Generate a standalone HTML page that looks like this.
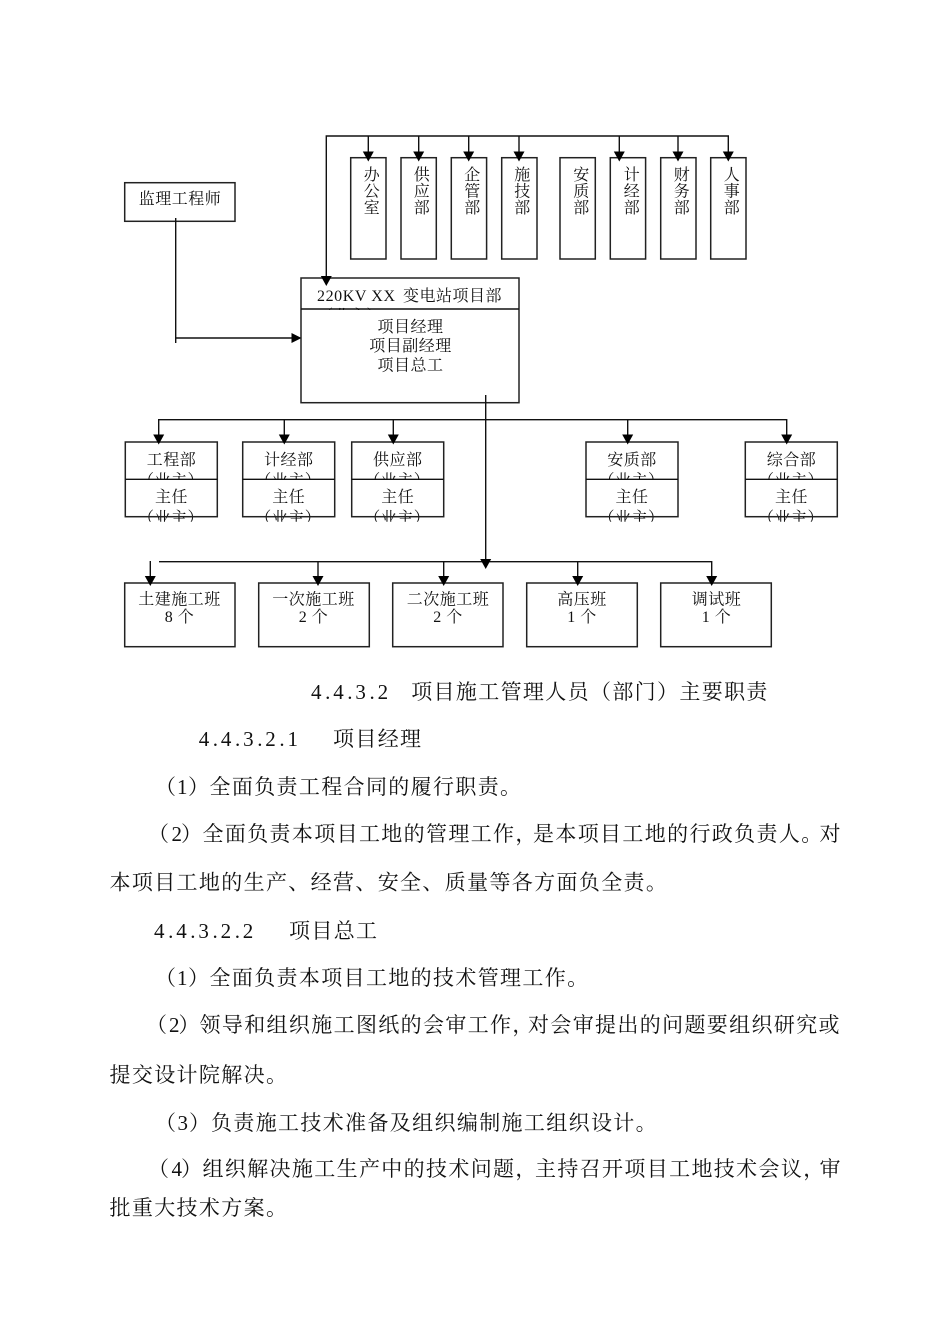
<!DOCTYPE html>
<html lang="zh">
<head>
<meta charset="utf-8">
<style>
html,body{margin:0;padding:0;background:#fff;width:950px;height:1344px;overflow:hidden}
svg{display:block}
text{font-family:"Liberation Serif","Noto Serif CJK SC",serif;fill:#111}
.b text{font-size:21px;letter-spacing:1.35px}
.l text{font-size:16px;letter-spacing:.5px;text-anchor:middle}
.box rect{fill:none;stroke:#222;stroke-width:1.5}
.ln{fill:none;stroke:#111;stroke-width:1.4}
</style>
</head>
<body>
<svg width="950" height="1344" viewBox="0 0 950 1344" xmlns="http://www.w3.org/2000/svg">
<defs>
<clipPath id="c0"><rect x="300" y="305" width="120" height="5"/></clipPath>
<clipPath id="c1"><rect x="100" y="466" width="760" height="13.5"/></clipPath>
<clipPath id="c2"><rect x="100" y="505" width="760" height="16.7"/></clipPath>
</defs>

<g class="l">
<text x="180" y="204">监理工程师</text>
<text x="372" y="180">办</text><text x="372" y="196.5">公</text><text x="372" y="213">室</text>
<text x="422" y="180">供</text><text x="422" y="196.5">应</text><text x="422" y="213">部</text>
<text x="472.5" y="180">企</text><text x="472.5" y="196.5">管</text><text x="472.5" y="213">部</text>
<text x="522.5" y="180">施</text><text x="522.5" y="196.5">技</text><text x="522.5" y="213">部</text>
<text x="581.5" y="180">安</text><text x="581.5" y="196.5">质</text><text x="581.5" y="213">部</text>
<text x="632" y="180">计</text><text x="632" y="196.5">经</text><text x="632" y="213">部</text>
<text x="682" y="180">财</text><text x="682" y="196.5">务</text><text x="682" y="213">部</text>
<text x="732" y="180">人</text><text x="732" y="196.5">事</text><text x="732" y="213">部</text>

<text style="text-anchor:start;letter-spacing:0" x="317" y="301" textLength="78">220KV XX</text>
<text style="text-anchor:start" x="403" y="301">变电站项目部</text>
<text clip-path="url(#c0)" x="350" y="321">（业主）</text>

<text x="410.5" y="332">项目经理</text>
<text x="410.5" y="351">项目副经理</text>
<text x="410.5" y="370.5">项目总工</text>

<g>
<text x="171.5" y="465">工程部</text><text x="288.7" y="465">计经部</text><text x="397.7" y="465">供应部</text><text x="632" y="465">安质部</text><text x="791.5" y="465">综合部</text>
<text x="171.5" y="502">主任</text><text x="288.7" y="502">主任</text><text x="397.7" y="502">主任</text><text x="632" y="502">主任</text><text x="791.5" y="502">主任</text>
</g>
<g clip-path="url(#c1)">
<text x="171" y="485.5">（业主）</text><text x="288.2" y="485.5">（业主）</text><text x="397.2" y="485.5">（业主）</text><text x="631.5" y="485.5">（业主）</text><text x="791" y="485.5">（业主）</text>
</g>
<g clip-path="url(#c2)">
<text x="171" y="523">（业主）</text><text x="288.2" y="523">（业主）</text><text x="397.2" y="523">（业主）</text><text x="631.5" y="523">（业主）</text><text x="791" y="523">（业主）</text>
</g>

<text x="179.5" y="604.5">土建施工班</text><text x="179.5" y="622">8 个</text>
<text x="313.5" y="604.5">一次施工班</text><text x="313.5" y="622">2 个</text>
<text x="448" y="604.5">二次施工班</text><text x="448" y="622">2 个</text>
<text x="582" y="604.5">高压班</text><text x="582" y="622">1 个</text>
<text x="716.5" y="604.5">调试班</text><text x="716.5" y="622">1 个</text>
</g>

<g class="box">
<rect x="124.7" y="182.7" width="110.3" height="38.6"/>
<rect x="350.7" y="157.7" width="35.3" height="101.3"/>
<rect x="401" y="157.7" width="35.3" height="101.3"/>
<rect x="451.3" y="157.7" width="35.3" height="101.3"/>
<rect x="501.7" y="157.7" width="35.3" height="101.3"/>
<rect x="560" y="157.7" width="35.3" height="101.3"/>
<rect x="610.3" y="157.7" width="35.3" height="101.3"/>
<rect x="660.7" y="157.7" width="35.3" height="101.3"/>
<rect x="710.7" y="157.7" width="35.3" height="101.3"/>
<rect x="301" y="278" width="218" height="124.7"/>
<rect x="125.3" y="442" width="92" height="74.7"/>
<rect x="242.7" y="442" width="92" height="74.7"/>
<rect x="351.7" y="442" width="92" height="74.7"/>
<rect x="586" y="442" width="92" height="74.7"/>
<rect x="745.3" y="442" width="92" height="74.7"/>
<rect x="124.7" y="583" width="110.3" height="63.7"/>
<rect x="258.7" y="583" width="110.6" height="63.7"/>
<rect x="392.7" y="583" width="110.3" height="63.7"/>
<rect x="526.7" y="583" width="110.6" height="63.7"/>
<rect x="660.7" y="583" width="110.6" height="63.7"/>
</g>

<path class="ln" d="M301 309H519
M125.3 479.3H217.3M242.7 479.3H334.7M351.7 479.3H443.7M586 479.3H678M745.3 479.3H837.3
M175.7 218V343M175.7 338H293
M326.3 277V136H728.3V153
M368.3 136V153M418.7 136V153M468.7 136V153M519 136V153M619.3 136V153M678 136V153
M485.7 395V561
M158.7 436V419.7H786.7V436
M284.3 419.7V436M393.3 419.7V436M627.7 419.7V436
M159 561.7H711.7V577
M150.3 561V577M318 561.7V577M443.7 561.7V577M577.7 561.7V577"/>

<path fill="#000" d="M368.3 161.5l-5.5 -10h11zM418.7 161.5l-5.5 -10h11zM468.7 161.5l-5.5 -10h11zM519 161.5l-5.5 -10h11zM619.3 161.5l-5.5 -10h11zM678 161.5l-5.5 -10h11zM728.3 161.5l-5.5 -10h11z
M326.3 286l-5.5 -10h11z
M301.5 338l-10 -5v10z
M158.7 444.5l-5.5 -10h11zM284.3 444.5l-5.5 -10h11zM393.3 444.5l-5.5 -10h11zM627.7 444.5l-5.5 -10h11zM786.7 444.5l-5.5 -10h11z
M485.7 569l-5.5 -10h11z
M150.3 586l-5.5 -10h11zM318 586l-5.5 -10h11zM443.7 586l-5.5 -10h11zM577.7 586l-5.5 -10h11zM711.7 586l-5.5 -10h11z"/>

<g class="b">
<text style="letter-spacing:0" y="699" x="311 325.1 333.2 347.3 355.4 369.5 377.6">4.4.3.2</text>
<text x="411.2" y="699">项目施工管理人员（部门）主要职责</text>

<text style="letter-spacing:0" y="746" x="198.7 212.8 220.9 235 243.1 257.2 265.3 279.4 287.5">4.4.3.2.1</text>
<text x="333" y="746">项目经理</text>

<text x="155" y="794">（</text><text style="letter-spacing:0" x="177" y="794">1</text><text x="188" y="794">）</text>
<text x="209.5" y="794">全面负责工程合同的履行职责。</text>

<text x="148" y="841">（</text><text style="letter-spacing:0" x="171.5" y="841">2</text><text x="181" y="841">）</text>
<text x="202.5" y="841">全面负责本项目工地的管理工作，</text>
<text x="533" y="841">是本项目工地的行政负责人。</text>
<text x="819.5" y="841">对</text>

<text x="109.5" y="889.5">本项目工地的生产、经营、安全、质量等各方面负全责。</text>

<text style="letter-spacing:0" y="938" x="154 168.1 176.2 190.3 198.4 212.5 220.6 234.7 242.8">4.4.3.2.2</text>
<text x="289" y="938">项目总工</text>

<text x="155" y="985">（</text><text style="letter-spacing:0" x="177" y="985">1</text><text x="188" y="985">）</text>
<text x="209.5" y="985">全面负责本项目工地的技术管理工作。</text>

<text x="146" y="1032">（</text><text style="letter-spacing:0" x="169" y="1032">2</text><text x="178.5" y="1032">）</text>
<text x="199.5" y="1032">领导和组织施工图纸的会审工作，</text>
<text x="528" y="1032">对会审提出的问题要组织研究或</text>

<text x="109.5" y="1082">提交设计院解决。</text>

<text x="155" y="1130">（</text><text style="letter-spacing:0" x="177.5" y="1130">3</text><text x="189" y="1130">）</text>
<text x="211" y="1130">负责施工技术准备及组织编制施工组织设计。</text>

<text x="148" y="1176">（</text><text style="letter-spacing:0" x="171.5" y="1176">4</text><text x="181" y="1176">）</text>
<text x="202.5" y="1176">组织解决施工生产中的技术问题，</text>
<text x="535" y="1176">主持召开项目工地技术会议，</text>
<text x="819.5" y="1176">审</text>

<text x="109.5" y="1215">批重大技术方案。</text>
</g>
</svg>
</body>
</html>
